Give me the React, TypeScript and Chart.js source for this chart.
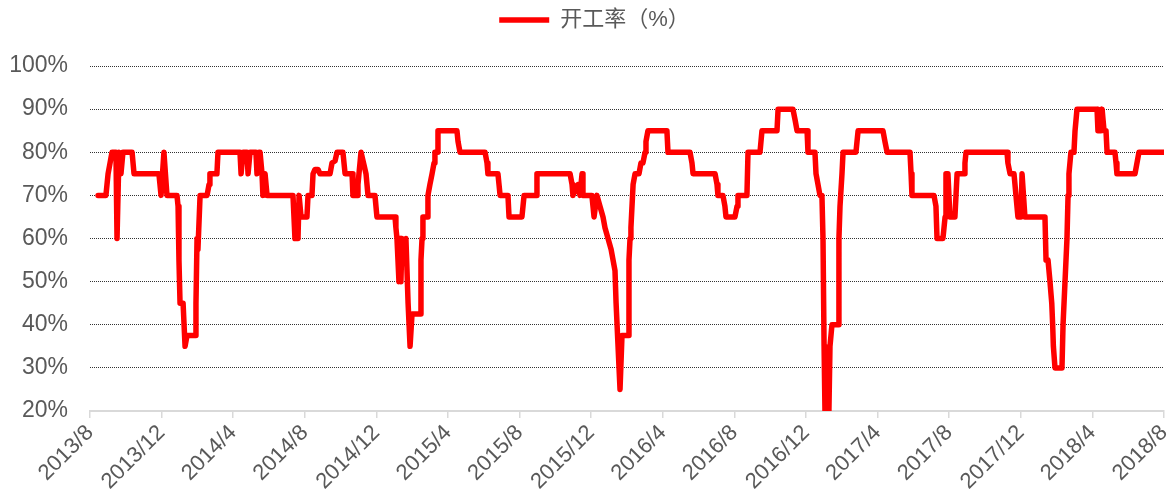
import React, { useEffect, useRef } from "react";
import { Chart, registerables } from "chart.js";

Chart.register(...registerables);

// x tick labels, one every 4 months starting 2013/8
const tickLabels = [
  "2013/8", "2013/12", "2014/4", "2014/8", "2014/12", "2015/4", "2015/8", "2015/12",
  "2016/4", "2016/8", "2016/12", "2017/4", "2017/8", "2017/12", "2018/4", "2018/8",
];

// time of each observation, in months elapsed since 2013/8
const monthOffsets = [
  0.45, 0.89, 1.01, 1.12, 1.23, 1.45, 1.51, 1.62, 1.73, 1.84, 2.35, 2.46, 3.85, 3.97, 4.13, 4.30,
  4.86, 4.92, 4.97, 5.03, 5.20, 5.31, 5.42, 5.87, 5.92, 5.98, 6.03, 6.15, 6.54, 6.65, 6.70, 7.09,
  7.15, 8.38, 8.44, 8.55, 8.77, 8.83, 8.94, 9.27, 9.33, 9.44, 9.50, 9.61, 9.66, 9.78, 9.89, 11.34,
  11.45, 11.62, 11.68, 11.79, 12.12, 12.18, 12.40, 12.46, 12.57, 12.74, 12.85, 13.41, 13.52, 13.69,
  13.80, 14.13, 14.25, 14.64, 14.69, 14.92, 14.97, 15.14, 15.31, 15.42, 15.53, 15.92, 16.03, 17.04,
  17.09, 17.15, 17.26, 17.32, 17.37, 17.43, 17.54, 17.65, 17.77, 17.88, 17.99, 18.44, 18.49, 18.55,
  18.60, 18.83, 18.88, 18.99, 19.11, 19.22, 19.27, 19.39, 19.44, 20.50, 20.56, 20.67, 22.07, 22.18,
  22.23, 22.79, 22.85, 22.91, 23.35, 23.41, 24.13, 24.19, 24.25, 24.92, 24.97, 26.82, 26.93, 26.98,
  27.26, 27.37, 27.49, 27.54, 28.04, 28.10, 28.16, 28.32, 28.49, 28.66, 28.77, 28.94, 29.11, 29.22,
  29.33, 29.39, 29.50, 29.61, 29.72, 30.06, 30.11, 30.17, 30.22, 30.34, 30.45, 30.67, 30.78, 30.89,
  31.01, 31.06, 31.17, 32.23, 32.29, 33.52, 33.63, 33.69, 34.92, 35.03, 35.08, 35.36, 35.47, 35.53,
  36.03, 36.15, 36.20, 36.70, 36.76, 37.43, 37.54, 38.38, 38.44, 39.27, 39.39, 39.50, 40.06, 40.11,
  40.50, 40.56, 40.67, 40.78, 40.89, 40.95, 41.01, 41.06, 41.28, 41.34, 41.45, 41.79, 41.84, 41.90,
  42.01, 42.07, 42.79, 42.85, 42.91, 44.30, 44.41, 44.53, 45.81, 45.87, 45.92, 47.15, 47.26, 47.32,
  47.65, 47.71, 47.77, 47.82, 47.93, 48.04, 48.32, 48.38, 48.44, 48.83, 48.88, 48.94, 51.23, 51.28,
  51.40, 51.62, 51.73, 51.84, 52.01, 52.07, 52.23, 53.35, 53.41, 53.52, 53.63, 53.73, 53.78, 53.82,
  53.91, 54.30, 54.36, 54.47, 54.58, 54.64, 54.69, 54.80, 54.97, 55.03, 55.14, 56.26, 56.31, 56.48,
  56.54, 56.65, 56.76, 56.82, 57.26, 57.32, 57.37, 58.38, 58.49, 58.60, 60.00,
];

// operating rate (%) at each observation
const operatingRate = [
  70, 70, 75, 77.5, 80, 80, 60, 80, 75, 80, 80, 75, 75, 70, 80, 70,
  70, 67.5, 55, 45, 45, 35, 37.5, 37.5, 45, 60, 57.5, 70, 70, 72.5, 75, 75,
  80, 80, 75, 80, 80, 75, 80, 80, 75, 80, 80, 75, 70, 75, 70, 70,
  60, 60, 70, 65, 65, 70, 70, 75, 76, 76, 75, 75, 77.5, 78,
  80, 80, 75, 75, 70, 70, 72.5, 80, 77, 75, 70, 70, 65, 65,
  62.5, 60, 50, 60, 50, 60, 55, 60, 45, 35, 42.5, 42.5, 55, 60,
  65, 65, 70, 72.5, 75, 77.5, 80, 80, 85, 85, 82.5, 80, 80, 77.5,
  75, 75, 72.5, 70, 70, 65, 65, 67.5, 70, 70, 75, 75, 72.5, 70,
  72.5, 70, 75, 70, 70, 67.5, 65, 70, 67.5, 65, 62.5, 60, 57.5, 55,
  52.5, 45, 35, 25, 37.5, 37.5, 55, 60, 62.5, 72.5, 75, 75, 77.5, 77.5,
  80, 82.5, 85, 85, 80, 80, 77.5, 75, 75, 72.5, 70, 70, 67.5, 65,
  65, 67.5, 70, 70, 80, 80, 85, 85, 90, 90, 87.5, 85, 85, 80,
  80, 75, 72.5, 70, 70, 60, 35, 20, 20, 35, 40, 40, 60, 67.5,
  75, 80, 80, 82.5, 85, 85, 82.5, 80, 80, 75, 70, 70, 67.5, 60,
  60, 62.5, 65, 75, 75, 65, 65, 70, 75, 75, 77.5, 80, 80, 77.5,
  75, 75, 70, 65, 65, 75, 65, 65, 55, 55, 50, 45, 40, 35,
  30, 30, 40, 50, 60, 70, 75, 80, 80, 85, 90, 90, 85, 85,
  90, 85, 85, 80, 80, 77.5, 75, 75, 77.5, 80, 80,
];

const FONT = "'Liberation Sans', Arial, 'Noto Sans CJK SC', sans-serif";
const TEXT = "#595959";

// nudges the centred legend slightly to the right, as in the original layout
const legendOffset = {
  id: "legendOffset",
  afterLayout(chart: any) {
    if (chart.legend) {
      chart.legend.left += 25;
    }
  },
};

export default function App() {
  const canvasRef = useRef<HTMLCanvasElement | null>(null);

  useEffect(() => {
    document.body.style.margin = "0";
    const canvas = canvasRef.current;
    if (!canvas) return;
    const chart = new Chart(canvas, {
      type: "line",
      data: {
        datasets: [
          {
            label: "开工率（%）",
            data: monthOffsets.map((x, i) => ({ x, y: operatingRate[i] })),
            borderColor: "#ff0000",
            backgroundColor: "#ff0000",
            borderWidth: 5.5,
            pointRadius: 0,
            pointHoverRadius: 0,
            tension: 0,
            borderJoinStyle: "round",
            borderCapStyle: "round",
            fill: false,
          },
        ],
      },
      plugins: [legendOffset],
      options: {
        responsive: false,
        animation: false,
        events: [],
        layout: { padding: { top: 0, right: 7, bottom: 0, left: 0 } },
        plugins: {
          legend: {
            display: true,
            position: "top",
            weight: 1000,
            labels: {
              usePointStyle: true,
              pointStyle: "line",
              pointStyleWidth: 50,
              color: TEXT,
              padding: 9,
              font: { size: 22, family: FONT },
            },
          },
          title: {
            display: true,
            text: "",
            position: "top",
            weight: 500,
            padding: 0,
            font: { size: 25, lineHeight: 1 },
          },
          tooltip: { enabled: false },
        },
        scales: {
          x: {
            type: "linear",
            min: 0,
            max: 60,
            afterFit: (scale: any) => {
              scale.height = 90;
              scale.paddingRight = 0;
              scale.paddingLeft = 0;
            },
            ticks: {
              stepSize: 4,
              autoSkip: false,
              maxRotation: 45,
              minRotation: 45,
              color: TEXT,
              padding: 2,
              font: { size: 22, family: FONT },
              callback: (value: any) => tickLabels[Math.round(Number(value) / 4)] ?? "",
            },
            grid: {
              drawOnChartArea: false,
              drawTicks: true,
              tickLength: 7,
              color: "#d9d9d9",
              lineWidth: 1.5,
            },
            border: { display: true, color: "#d9d9d9", width: 2 },
          },
          y: {
            type: "linear",
            min: 20,
            max: 100,
            afterFit: (scale: any) => {
              scale.width = 90;
            },
            ticks: {
              stepSize: 10,
              color: TEXT,
              padding: 22,
              font: { size: 23, family: FONT },
              callback: (value: any) => `${value}%`,
            },
            grid: {
              drawTicks: false,
              color: (ctx: any) => (ctx.tick && ctx.tick.value === 20 ? "rgba(0,0,0,0)" : "#333333"),
              lineWidth: 1,
            },
            border: { display: false, dash: [1, 1] },
          },
        },
      },
    });
    return () => chart.destroy();
  }, []);

  return (
    <div style={{ width: 1171, height: 501 }}>
      <canvas ref={canvasRef} width={1171} height={501} style={{ display: "block" }} />
    </div>
  );
}
